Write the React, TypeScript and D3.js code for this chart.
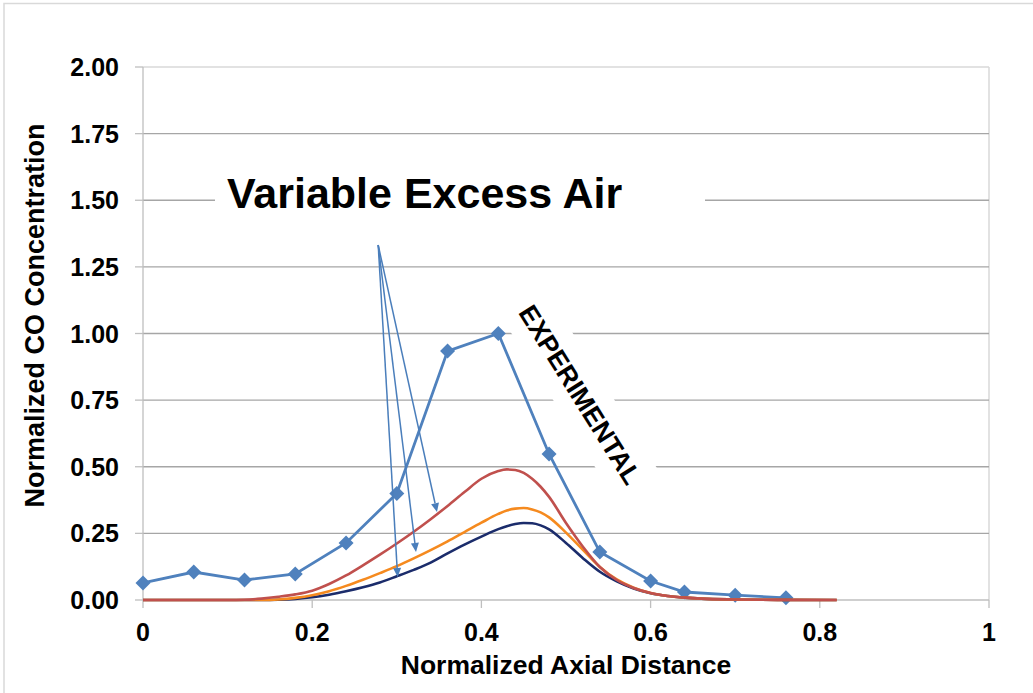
import React from "react";
import * as d3 from "d3";

const W = 1033;
const H = 693;

const xTicks = [0, 0.2, 0.4, 0.6, 0.8, 1];
const xTickLabels = ["0", "0.2", "0.4", "0.6", "0.8", "1"];
const yTicks = [0, 0.25, 0.5, 0.75, 1.0, 1.25, 1.5, 1.75, 2.0];

const expX = [0, 0.06, 0.12, 0.18, 0.24, 0.3, 0.36, 0.42, 0.48, 0.54, 0.6, 0.64, 0.7, 0.76];
const expY = [0.064, 0.105, 0.075, 0.098, 0.214, 0.4, 0.934, 1.0, 0.548, 0.18, 0.071, 0.03, 0.018, 0.008];

const modelX = [0, 0.1, 0.12, 0.14, 0.16, 0.18, 0.2, 0.22, 0.24, 0.26, 0.28, 0.3, 0.32, 0.34, 0.36, 0.38, 0.4, 0.42, 0.43, 0.44, 0.45, 0.46, 0.47, 0.48, 0.5, 0.52, 0.54, 0.56, 0.58, 0.6, 0.62, 0.64, 0.66, 0.7, 0.75, 0.82];
const redY = [0, 0, 0.001, 0.005, 0.012, 0.021, 0.035, 0.06, 0.092, 0.13, 0.17, 0.212, 0.256, 0.303, 0.353, 0.405, 0.455, 0.484, 0.49, 0.488, 0.477, 0.455, 0.425, 0.387, 0.289, 0.2, 0.124, 0.075, 0.045, 0.026, 0.015, 0.009, 0.005, 0.002, 0.0005, 0];
const orangeY = [0, 0, 0, 0, 0.002, 0.008, 0.018, 0.033, 0.053, 0.076, 0.101, 0.127, 0.156, 0.187, 0.22, 0.255, 0.29, 0.323, 0.336, 0.343, 0.345, 0.34, 0.329, 0.31, 0.253, 0.188, 0.124, 0.077, 0.046, 0.026, 0.015, 0.009, 0.005, 0.002, 0.0005, 0];
const navyY = [0, 0, 0, 0, 0.001, 0.004, 0.01, 0.02, 0.033, 0.048, 0.066, 0.089, 0.113, 0.14, 0.175, 0.208, 0.238, 0.266, 0.277, 0.285, 0.289, 0.288, 0.28, 0.265, 0.214, 0.157, 0.106, 0.07, 0.043, 0.025, 0.015, 0.009, 0.005, 0.002, 0.0005, 0];

const arrowStart = [0.278, 1.332];
const arrowEnds = [
  [0.301, 0.086],
  [0.3227, 0.18],
  [0.3475, 0.33],
];

const FONT = "'Liberation Sans', Arial, Helvetica, sans-serif";
const EXP_COLOR = "#4f81bd";
const RED = "#c0504d";
const ORANGE = "#f58a1f";
const NAVY = "#1b2c6b";
const GRID = "#a6a6a6";

export default function App() {
  const x = d3.scaleLinear().domain([0, 1]).range([143, 989]);
  const y = d3.scaleLinear().domain([0, 2]).range([600, 67]);

  const expLine = d3
    .line<number>()
    .x((_, i) => x(expX[i]))
    .y((d) => y(d));

  const smooth = d3
    .line<number>()
    .x((_, i) => x(modelX[i]))
    .y((d) => y(d))
    .curve(d3.curveMonotoneX);

  const diamond = (cx: number, cy: number, r: number) =>
    `M${cx},${cy - r}L${cx + r},${cy}L${cx},${cy + r}L${cx - r},${cy}Z`;

  const sx = x(arrowStart[0]);
  const sy = y(arrowStart[1]);

  const expLabelX = x(0.517);
  const expLabelY = y(0.771);

  return (
    <svg
      width={W}
      height={H}
      style={{ position: "absolute", left: 0, top: 0, background: "#fff" }}
      fontFamily={FONT}
    >
      <rect x={0} y={0} width={W} height={H} fill="#fff" />
      <rect x={4} y={3.5} width={W + 20} height={H + 20} fill="none" stroke="#d9d9d9" strokeWidth={1.5} />

      <line x1={x(0)} x2={x(1)} y1={y(2)} y2={y(2)} stroke="#d9d9d9" strokeWidth={1.5} />
      <line x1={x(1)} x2={x(1)} y1={y(2)} y2={y(0)} stroke="#d9d9d9" strokeWidth={1.5} />

      {yTicks
        .filter((t) => t > 0 && t < 2)
        .map((t) => (
          <line key={"g" + t} x1={x(0)} x2={x(1)} y1={y(t)} y2={y(t)} stroke={GRID} strokeWidth={1.3} />
        ))}

      <line x1={x(0)} x2={x(0)} y1={y(2)} y2={y(0)} stroke="#bfbfbf" strokeWidth={1.3} />
      <line x1={x(0)} x2={x(1)} y1={y(0)} y2={y(0)} stroke="#bfbfbf" strokeWidth={1.5} />
      {yTicks.map((t) => (
        <g key={"yt" + t}>
          <line x1={x(0) - 8} x2={x(0)} y1={y(t)} y2={y(t)} stroke="#bfbfbf" strokeWidth={1.3} />
          <text x={119} y={y(t)} dy="0.36em" textAnchor="end" fontSize={25} fontWeight="bold" fill="#000">
            {t.toFixed(2)}
          </text>
        </g>
      ))}
      {xTicks.map((t, i) => (
        <g key={"xt" + t}>
          <line x1={x(t)} x2={x(t)} y1={y(0)} y2={y(0) + 8} stroke="#bfbfbf" strokeWidth={1.3} />
          <text x={x(t)} y={641} textAnchor="middle" fontSize={25} fontWeight="bold" fill="#000">
            {xTickLabels[i]}
          </text>
        </g>
      ))}

      <text x={566} y={674} textAnchor="middle" fontSize={26.5} fontWeight="bold" fill="#000">
        Normalized Axial Distance
      </text>
      <text
        transform={`translate(44,315.5) rotate(-90)`}
        textAnchor="middle"
        fontSize={27}
        fontWeight="bold"
        fill="#000"
      >
        Normalized CO Concentration
      </text>

      <rect x={215} y={165} width={490} height={60} fill="#fff" />
      <text x={227} y={208} fontSize={43} fontWeight="bold" fill="#000">
        Variable Excess Air
      </text>

      <g transform={`translate(${expLabelX},${expLabelY}) rotate(58)`}>
        <rect x={-114} y={-26} width={228} height={52} fill="#fff" />
        <text x={0} y={0} dy="0.36em" textAnchor="middle" fontSize={26.5} fontWeight="bold" fill="#000">
          EXPERIMENTAL
        </text>
      </g>

      <path d={expLine(expY) || ""} fill="none" stroke={EXP_COLOR} strokeWidth={2.8} />
      {expY.map((v, i) => (
        <path key={"m" + i} d={diamond(x(expX[i]), y(v), 7.5)} fill={EXP_COLOR} />
      ))}

      <path d={smooth(navyY) || ""} fill="none" stroke={NAVY} strokeWidth={2.6} />
      <path d={smooth(orangeY) || ""} fill="none" stroke={ORANGE} strokeWidth={2.6} />
      <path d={smooth(redY) || ""} fill="none" stroke={RED} strokeWidth={2.6} />

      {arrowEnds.map((e, i) => {
        const ex = x(e[0]);
        const ey = y(e[1]);
        const ang = Math.atan2(ey - sy, ex - sx);
        const len = 9;
        const hw = 4;
        const bx = ex - len * Math.cos(ang);
        const by = ey - len * Math.sin(ang);
        const px = -Math.sin(ang) * hw;
        const py = Math.cos(ang) * hw;
        return (
          <g key={"a" + i}>
            <line x1={sx} y1={sy} x2={bx} y2={by} stroke="#4a7ebb" strokeWidth={1.5} />
            <path d={`M${ex},${ey}L${bx + px},${by + py}L${bx - px},${by - py}Z`} fill="#4a7ebb" />
          </g>
        );
      })}
    </svg>
  );
}
